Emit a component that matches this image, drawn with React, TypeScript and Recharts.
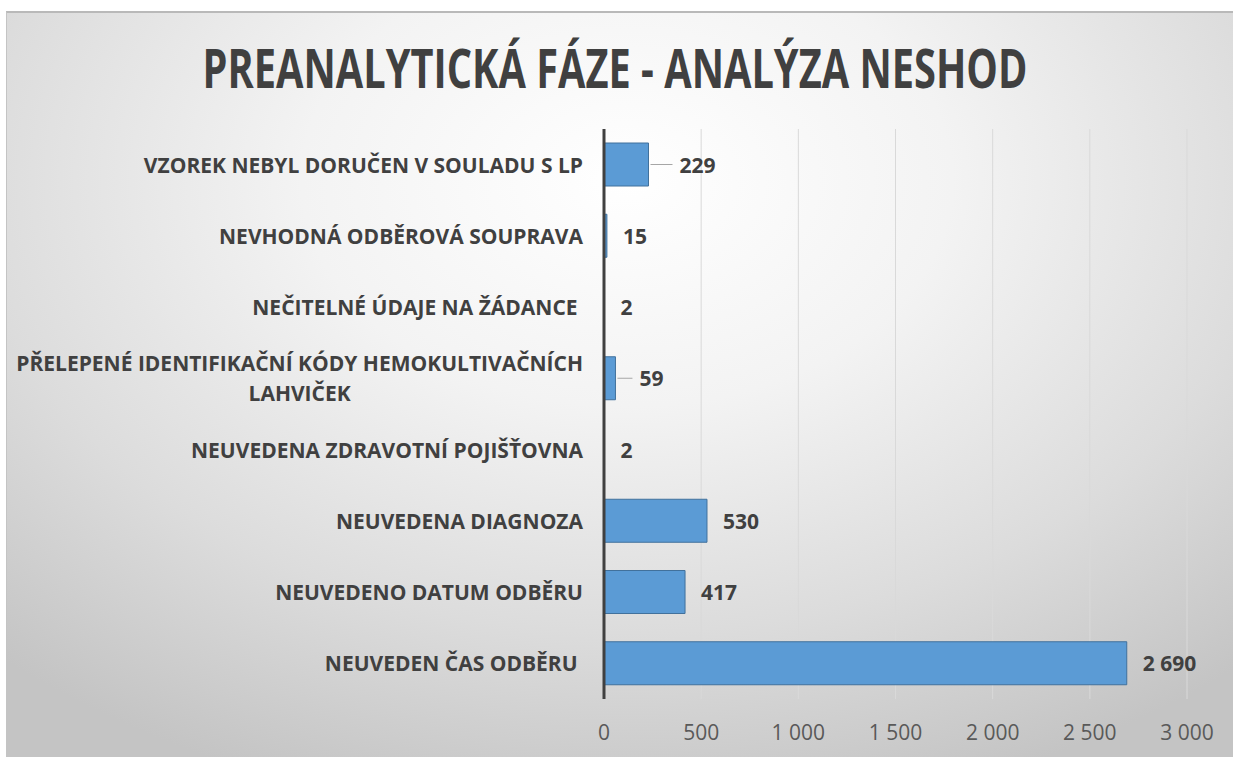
import React from 'react';
import { BarChart, Bar, XAxis, YAxis, CartesianGrid, LabelList } from 'recharts';

const categories = [
  'VZOREK NEBYL DORUČEN V SOULADU S LP',
  'NEVHODNÁ ODBĚROVÁ SOUPRAVA',
  'NEČITELNÉ ÚDAJE NA ŽÁDANCE ',
  'PŘELEPENÉ IDENTIFIKAČNÍ KÓDY HEMOKULTIVAČNÍCH LAHVIČEK',
  'NEUVEDENA ZDRAVOTNÍ POJIŠŤOVNA',
  'NEUVEDENA DIAGNOZA',
  'NEUVEDENO DATUM ODBĚRU',
  'NEUVEDEN ČAS ODBĚRU ',
];
const counts = [229, 15, 2, 59, 2, 530, 417, 2690];
const xTicks = [0, 500, 1000, 1500, 2000, 2500, 3000];
const title = 'PREANALYTICKÁ FÁZE - ANALÝZA NESHOD';

const data = categories.map((name, i) => ({ name, value: counts[i] }));

// leader lines drawn for labels that were dragged away from the bar
const leaders = [22, 0, 0, 15, 0, 0, 0, 0];

const TEXT = '#404040';
const FONT = '"Open Sans", sans-serif';
const CAT_FONT = `700 21px "Open Sans"`;
const TITLE_FONT = `700 53px "Open Sans"`;

const fmt = (v: number) => String(v).replace(/\B(?=(\d{3})+(?!\d))/g, ' ');

let ctx: CanvasRenderingContext2D | null = null;
const measure = (s: string, font = CAT_FONT) => {
  if (!ctx) ctx = document.createElement('canvas').getContext('2d');
  ctx!.font = font;
  return ctx!.measureText(s).width;
};

const wrap = (s: string, max: number) => {
  const words = s.trim().split(' ');
  const lines: string[] = [];
  let cur = '';
  words.forEach((w) => {
    const next = cur ? cur + ' ' + w : w;
    if (cur && measure(next) > max) {
      lines.push(cur);
      cur = w;
    } else cur = next;
  });
  if (cur) lines.push(cur);
  return lines;
};

function CategoryTick({ x, y, payload }: any) {
  const right = x - 21;
  const lines = wrap(payload.value, 575);
  if (lines.length === 1) {
    return (
      <text x={right} y={y} textAnchor="end" dominantBaseline="central" fill={TEXT}
        style={{ font: CAT_FONT, whiteSpace: 'pre' }}>
        {payload.value}
      </text>
    );
  }
  const w = Math.max(...lines.map((l) => measure(l)));
  const lh = 30;
  return (
    <text x={right - w / 2} y={y} textAnchor="middle" fill={TEXT} style={{ font: CAT_FONT }}>
      {lines.map((l, i) => (
        <tspan key={i} x={right - w / 2} y={y + (i - (lines.length - 1) / 2) * lh} dominantBaseline="central">
          {l}
        </tspan>
      ))}
    </text>
  );
}

function ValueTick({ x, y, payload }: any) {
  return (
    <text x={x} y={y + 33} textAnchor="middle" dominantBaseline="central" fill="#595959"
      style={{ fontFamily: FONT, fontSize: 21 }}>
      {fmt(payload.value)}
    </text>
  );
}

function BarLabel({ x, y, width, height, value, index }: any) {
  const end = x + width;
  const cy = y + height / 2;
  const lead = leaders[index] || 0;
  const tx = lead ? end + 2 + lead + 7 : end + 16;
  return (
    <g>
      {lead ? <line x1={end + 2} x2={end + 2 + lead} y1={cy} y2={cy} stroke="#a6a6a6" strokeWidth={1} /> : null}
      <text x={tx} y={cy} dominantBaseline="central" fill={TEXT}
        style={{ fontFamily: FONT, fontSize: 21, fontWeight: 700 }}>
        {fmt(value)}
      </text>
    </g>
  );
}

export default function App() {
  // squeeze the title to a condensed look like the original
  const sx = 825 / measure(title, TITLE_FONT);
  return (
    <div style={{ position: 'absolute', left: 0, top: 0, width: 1233, height: 757, background: '#fff', overflow: 'hidden' }}>
      <div
        style={{
          position: 'absolute',
          left: 6,
          top: 11,
          width: 1240,
          height: 760,
          borderTop: '2px solid #b9b9b9',
          borderLeft: '1px solid #c4c4c4',
          background: 'radial-gradient(ellipse 75% 85% at 50% 22%, #ffffff 0%, #f3f3f3 35%, #dcdcdc 70%, #c4c4c4 100%)',
        }}
      />
      <svg width={1233} height={140} style={{ position: 'absolute', left: 0, top: 0 }}>
        <text transform={`translate(615 88) scale(${sx} 1)`} textAnchor="middle" fill={TEXT}
          style={{ font: TITLE_FONT }}>
          {title}
        </text>
      </svg>
      <div style={{ position: 'absolute', left: 0, top: 0 }}>
        <BarChart width={1233} height={757} data={data} layout="vertical"
          margin={{ top: 129, right: 46, bottom: 0, left: 0 }} barSize={43}>
          <CartesianGrid horizontal={false} vertical stroke="#d9d9d9" />
          <XAxis type="number" domain={[0, 3000]} ticks={xTicks} axisLine={false} tickLine={false}
            tickSize={0} tickMargin={0} height={58} tick={<ValueTick />} interval={0} />
          <YAxis type="category" dataKey="name" width={604} axisLine={{ stroke: '#404040', strokeWidth: 3 }}
            tickLine={false} tickSize={0} tickMargin={0} tick={<CategoryTick />} interval={0} />
          <Bar dataKey="value" fill="#5b9bd5" stroke="#41719c" strokeWidth={1} isAnimationActive={false}>
            <LabelList dataKey="value" content={<BarLabel />} />
          </Bar>
        </BarChart>
      </div>
    </div>
  );
}
